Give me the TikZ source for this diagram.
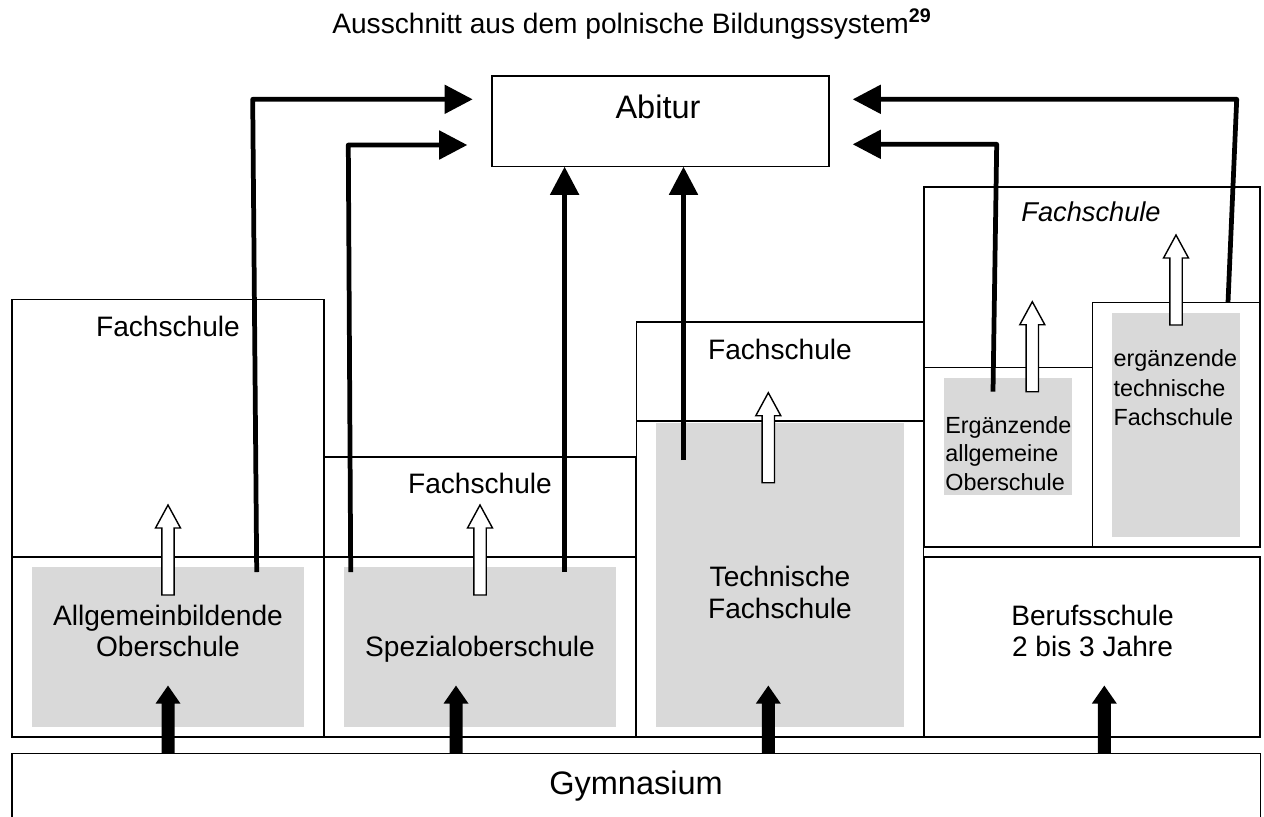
\documentclass[tikz,border=0pt]{standalone}
\usepackage{fontspec}
\setmainfont{Liberation Sans}
\usetikzlibrary{arrows.meta,fit}
\definecolor{boxgray}{RGB}{217,217,217}
\begin{document}
\begin{tikzpicture}[x=0.02cm,y=-0.02cm,
  frame/.style={draw=black,line width=0.9pt,inner sep=0pt},
  shade/.style={fill=boxgray,draw=none,inner sep=0pt},
  lbl/.style={anchor=base,inner sep=0pt,font=\fontsize{16}{19}\selectfont},
  ital/.style={anchor=base,inner sep=0pt,font=\fontsize{15.5}{19}\selectfont\itshape},
  small/.style={anchor=base west,inner sep=0pt,font=\fontsize{13.3}{16}\selectfont},
  big/.style={anchor=base,inner sep=0pt,font=\fontsize{18.5}{22}\selectfont},
  link/.style={line width=2.7pt,-{Triangle[length=16pt,width=16pt]},line join=round},
  hollowup/.pic={\draw[line width=0.8pt,fill=white] (-6.2,0) -- (-6.2,-67) -- (-12.5,-67) -- (0,-90) -- (12.5,-67) -- (6.2,-67) -- (6.2,0) -- cycle;},
  solidup/.pic={\fill[black] (-6.5,0) -- (-6.5,-49.7) -- (-12.5,-49.7) -- (0,-67.7) -- (12.5,-49.7) -- (6.5,-49.7) -- (6.5,0) -- cycle;}
]
\useasboundingbox (0,0) rectangle (1264,816);

% title
\node[anchor=base,inner sep=0pt,font=\fontsize{16}{19}\selectfont] (title) at (632,33.3)
  {Ausschnitt aus dem polnische Bildungssystem\textsuperscript{\bfseries 29}};

% Abitur
\node[frame,fit={(492,76)(829,166.7)}] (abitur) {};
\node[big] (abiturlbl) at (658,118.3) {Abitur};

% gray areas
\node[shade,fit={(32,566.7)(304,726.7)}] (g1) {};
\node[shade,fit={(344,566.7)(616,726.7)}] (g2) {};
\node[shade,fit={(656,423.3)(904,726.7)}] (g3) {};
\node[shade,fit={(944.3,378.3)(1071.7,495)}] (g4) {};
\node[shade,fit={(1112.3,313.3)(1240,536.7)}] (g5) {};

% boxes
\node[frame,fit={(12,299.3)(324,556.7)}] (fs1) {};
\node[frame,fit={(12,556.7)(324,736.7)}] (aos) {};
\node[frame,fit={(324,457)(636,556.7)}] (fs2) {};
\node[frame,fit={(324,556.7)(636,736.7)}] (sos) {};
\node[frame,fit={(636.7,321.7)(923.3,420.7)}] (fs3) {};
\node[frame,fit={(636.7,420.7)(923.3,736.7)}] (tfs) {};
\node[frame,fit={(924,186.7)(1260,546.7)}] (fs4) {};
\node[frame,fit={(924,367.3)(1092.3,546.7)}] (eao) {};
\node[frame,fit={(1092.3,302.3)(1260,546.7)}] (etf) {};
\node[frame,fit={(924,556.7)(1260,736.7)}] (bs) {};
\node[frame,fit={(12,753.3)(1260.5,830)}] (gym) {};

% labels
\node[lbl] (fs1lbl) at (168,336) {Fachschule};
\node[lbl] (fs2lbl) at (480,493) {Fachschule};
\node[lbl] (fs3lbl) at (780,359.3) {Fachschule};
\node[ital] (fs4lbl) at (1091,221.7) {Fachschule};
\node[lbl] (aos1) at (168,625) {Allgemeinbildende};
\node[lbl] (aos2) at (168,656.7) {Oberschule};
\node[lbl] (soslbl) at (480,656.7) {Spezialoberschule};
\node[lbl] (tfs1) at (780,586.7) {Technische};
\node[lbl] (tfs2) at (780,618.3) {Fachschule};
\node[lbl] (bs1) at (1092.5,625) {Berufsschule};
\node[lbl] (bs2) at (1092.5,656.7) {2 bis 3 Jahre};
\node[small] (eao1) at (945,433.3) {Ergänzende};
\node[small] (eao2) at (945,461.7) {allgemeine};
\node[small] (eao3) at (945,490) {Oberschule};
\node[small] (etf1) at (1113.3,366.7) {ergänzende};
\node[small] (etf2) at (1113.3,396.7) {technische};
\node[small] (etf3) at (1113.3,425) {Fachschule};
\node[big] (gymlbl) at (636,794) {Gymnasium};

% hollow arrows (transitions to Fachschule)
\pic at (168,595) {hollowup};
\pic at (480,595) {hollowup};
\pic at (768.3,482.7) {hollowup};
\pic at (1032.3,391.7) {hollowup};
\pic at (1176,325) {hollowup};

% solid arrows from Gymnasium
\pic at (168,753.3) {solidup};
\pic at (456,753.3) {solidup};
\pic at (768.3,753.3) {solidup};
\pic at (1104.3,753.3) {solidup};

% connectors to Abitur
\coordinate (a1s) at (256.7,572);
\coordinate (a1c) at (252.7,99.3);
\coordinate (a1e) at (472.7,99.3);
\coordinate (a2s) at (350.7,572);
\coordinate (a2c) at (348.3,145);
\coordinate (a2e) at (467.3,145);
\coordinate (a3s) at (564.6,572);
\coordinate (a3e) at (564.6,166.7);
\coordinate (a4s) at (683.5,460);
\coordinate (a4e) at (683.5,166.7);
\coordinate (a5s) at (993,391.7);
\coordinate (a5c) at (996.7,144.3);
\coordinate (a5e) at (852.7,144.3);
\coordinate (a6s) at (1228,302.3);
\coordinate (a6c) at (1236.7,99.3);
\coordinate (a6e) at (852.7,99.3);
\draw[link] (a1s) -- (a1c) -- (a1e);
\draw[link] (a2s) -- (a2c) -- (a2e);
\draw[link] (a3s) -- (a3e);
\draw[link] (a4s) -- (a4e);
\draw[link] (a5s) -- (a5c) -- (a5e);
\draw[link] (a6s) -- (a6c) -- (a6e);
\end{tikzpicture}
\end{document}
